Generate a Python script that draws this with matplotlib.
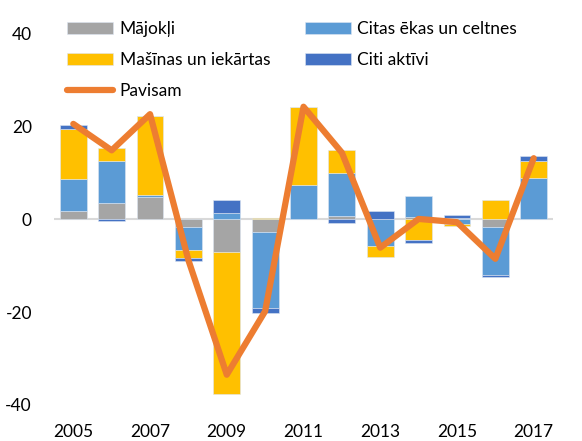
import numpy as np
import matplotlib
matplotlib.use("Agg")
import matplotlib.pyplot as plt
from matplotlib.lines import Line2D

plt.rcParams['font.family'] = ['Lato', 'DejaVu Sans']
plt.rcParams['axes.unicode_minus'] = False

years = np.arange(2005, 2018)

# contributions by asset type
majokli = [1.8, 3.5, 4.8, -1.7, -7.1, -2.7, 0.0, 0.8, 0.0, 0.6, 0.4, -1.7, 0.0]
citas_ekas = [7.0, 9.0, 0.5, -4.8, 1.4, -16.5, 7.5, 9.2, -5.8, 4.5, -1.0, -10.3, 9.0]
masinas = [10.7, 3.0, 17.1, -1.9, -30.5, 0.4, 16.7, 5.0, -2.3, -4.5, -0.5, 4.1, 3.7]
citi_aktivi = [0.9, -0.4, 0.0, -0.6, 2.7, -1.0, 0.0, -0.8, 1.8, -0.5, 0.6, -0.5, 1.0]
pavisam = [20.6, 14.9, 22.7, -8.8, -33.5, -19.8, 24.3, 14.4, -6.1, 0.1, -0.6, -8.5, 13.2]

series = [
    ("Mājokļi", majokli, "#A5A5A5"),
    ("Citas ēkas un celtnes", citas_ekas, "#5B9BD5"),
    ("Mašīnas un iekārtas", masinas, "#FFC000"),
    ("Citi aktīvi", citi_aktivi, "#4472C4"),
]

fig = plt.figure(figsize=(5.82, 4.41), dpi=100)
ax = fig.add_axes([0.093, 0.082, 0.857, 0.841])

ax.axhline(0, color="#D9D9D9", linewidth=1.5, zorder=1)

pos_bottom = np.zeros(len(years))
neg_bottom = np.zeros(len(years))
handles = {}
for name, vals, col in series:
    v = np.array(vals)
    bottom = np.where(v >= 0, pos_bottom, neg_bottom)
    b = ax.bar(years, v, bottom=bottom, width=0.7, color=col,
               edgecolor="#DDE6F2", linewidth=0.4, zorder=2)
    handles[name] = b
    pos_bottom += np.where(v >= 0, v, 0)
    neg_bottom += np.where(v < 0, v, 0)

line, = ax.plot(years, pavisam, color="#ED7D31", linewidth=4.5,
                solid_capstyle="round", solid_joinstyle="round", zorder=3)

ax.set_xlim(2004.5, 2017.5)
ax.set_ylim(-40, 40)
ax.set_yticks([-40, -20, 0, 20, 40])
ax.set_xticks(years[::2])
ax.tick_params(axis="both", length=0, labelsize=12.5, colors="black")
ax.tick_params(axis="y", pad=16)
ax.tick_params(axis="x", pad=14)
for s in ax.spines.values():
    s.set_visible(False)

leg_handles = [handles["Mājokļi"], handles["Mašīnas un iekārtas"],
               Line2D([], [], color="#ED7D31", linewidth=4.5, solid_capstyle="round"),
               handles["Citas ēkas un celtnes"], handles["Citi aktīvi"]]
leg_labels = ["Mājokļi", "Mašīnas un iekārtas", "Pavisam",
              "Citas ēkas un celtnes", "Citi aktīvi"]
ax.legend(leg_handles, leg_labels, ncol=2, loc="upper left",
          bbox_to_anchor=(0.095, 0.979), bbox_transform=fig.transFigure,
          frameon=False, fontsize=12.5, handlelength=2.65, handletextpad=0.35,
          labelspacing=0.85, columnspacing=2.0, borderaxespad=0.3)

fig.savefig("out.png", dpi=100)
